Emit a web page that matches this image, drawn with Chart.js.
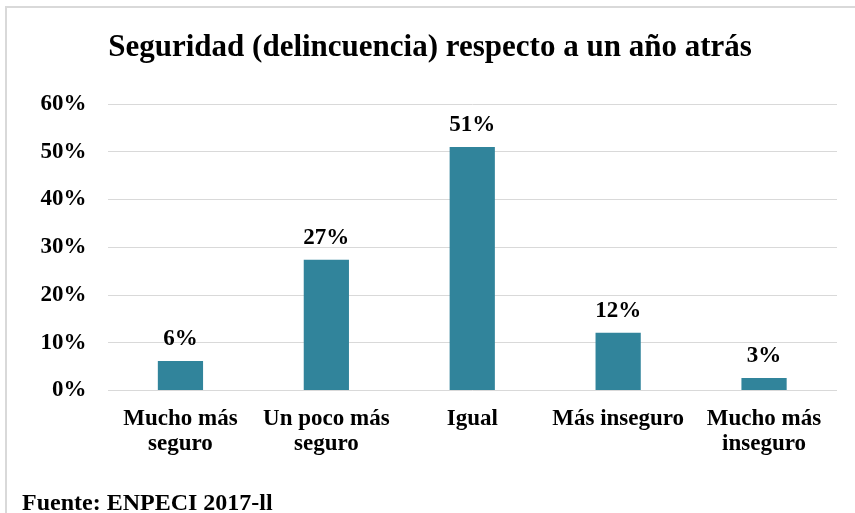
<!DOCTYPE html>
<html>
<head>
<meta charset="utf-8">
<script src="https://cdn.jsdelivr.net/npm/chart.js@4"></script>
<style>
  html, body { margin: 0; padding: 0; background: #fff; }
  #wrap { position: relative; width: 855px; height: 513px; }
</style>
</head>
<body>
<div id="wrap"><canvas id="c" width="855" height="513"></canvas></div>
<script>
const titleText = "Seguridad (delincuencia) respecto a un año atrás";
const sourceText = "Fuente: ENPECI 2017-ll";
const categories = [["Mucho más", "seguro"], ["Un poco más", "seguro"], "Igual", "Más inseguro", ["Mucho más", "inseguro"]];
const values = [6.2, 27.4, 51.0, 12.1, 2.6];
const valueLabels = ["6%", "27%", "51%", "12%", "3%"];
const yTicks = [0, 10, 20, 30, 40, 50, 60];

const FONT = "'Liberation Serif', 'Times New Roman', serif";

const decor = {
  id: 'decor',
  beforeDraw(chart) {
    const ctx = chart.ctx;
    ctx.save();
    ctx.strokeStyle = '#d9d9d9';
    ctx.lineWidth = 2;
    ctx.beginPath();
    ctx.moveTo(6, 513);
    ctx.lineTo(6, 7);
    ctx.lineTo(855, 7);
    ctx.stroke();
    ctx.fillStyle = '#000';
    ctx.font = "bold 31px " + FONT;
    ctx.textAlign = 'center';
    ctx.textBaseline = 'alphabetic';
    ctx.fillText(titleText, 430, 56);
    ctx.font = "bold 24px " + FONT;
    ctx.textAlign = 'left';
    ctx.fillText(sourceText, 22, 510);
    ctx.restore();
  },
  afterDatasetsDraw(chart) {
    const ctx = chart.ctx;
    const meta = chart.getDatasetMeta(0);
    ctx.save();
    ctx.fillStyle = '#000';
    ctx.font = "bold 23px " + FONT;
    ctx.textAlign = 'center';
    ctx.textBaseline = 'alphabetic';
    meta.data.forEach((bar, i) => {
      ctx.fillText(valueLabels[i], bar.x, bar.y - 16);
    });
    ctx.restore();
  }
};

new Chart(document.getElementById('c'), {
  type: 'bar',
  data: {
    labels: categories,
    datasets: [{
      data: values,
      backgroundColor: '#31849B',
      borderWidth: 0,
      categoryPercentage: 1,
      barPercentage: 0.31
    }]
  },
  options: {
    responsive: false,
    animation: false,
    layout: { padding: { top: 104, right: 18, left: 0, bottom: 0 } },
    plugins: {
      legend: { display: false },
      title: { display: false },
      tooltip: { enabled: false }
    },
    scales: {
      x: {
        grid: { display: false, drawTicks: false },
        border: { display: false },
        ticks: {
          color: '#000',
          padding: 16,
          maxRotation: 0,
          autoSkip: false,
          font: { family: FONT, size: 23, weight: 'bold', lineHeight: 1.1 }
        },
        afterFit(scale) { scale.height = 122.5; }
      },
      y: {
        min: 0,
        max: 60,
        afterBuildTicks(scale) { scale.ticks = yTicks.map(v => ({ value: v })); },
        grid: { color: '#d9d9d9', lineWidth: 1, drawTicks: false },
        border: { display: false },
        ticks: {
          color: '#000',
          padding: 21,
          font: { family: FONT, size: 23, weight: 'bold' },
          callback: v => v + '%'
        },
        afterFit(scale) { scale.width = 107.5; }
      }
    }
  },
  plugins: [decor]
});
</script>
</body>
</html>
